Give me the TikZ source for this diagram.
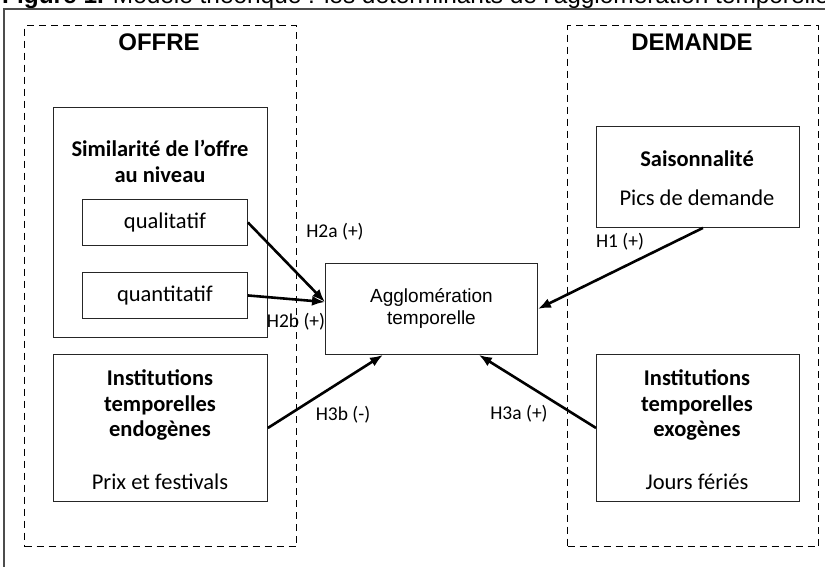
\documentclass[tikz,border=0pt]{standalone}
\usepackage{fontspec}
\setmainfont{Carlito}
\newfontfamily\arialf{Liberation Sans}
\usetikzlibrary{arrows.meta,calc}
\begin{document}
\begin{tikzpicture}[x=1pt,y=-1pt,
  box/.style={draw=black!85,line width=0.9pt,inner sep=0pt,anchor=north west},
  grp/.style={draw=black,line width=1.4pt,dash pattern=on 7pt off 5pt,inner sep=0pt,anchor=north west},
  txt/.style={font=\fontsize{22.5}{25.5}\selectfont,inner sep=0pt,align=center},
  btxt/.style={font=\fontsize{22.5}{25.5}\selectfont\bfseries,inner sep=0pt,align=center},
  head/.style={font=\arialf\fontsize{24}{28}\selectfont\bfseries,inner sep=0pt},
  hyp/.style={font=\fontsize{19.5}{22}\selectfont,inner sep=0pt},
  arr/.style={line width=2.6pt,-{Latex[length=13pt,width=10pt]}}]
\useasboundingbox (0,0) rectangle (825,566);
\clip (0,0) rectangle (825,566);
\fill[white] (0,0) rectangle (825,566);
% title (cut off at the top)
\node[anchor=base west,inner sep=0pt,font=\arialf\fontsize{24.4}{27}\selectfont] (title) at (2,3)
  {\textbf{Figure 1.} Modèle théorique : les déterminants de l'agglomération temporelle};
% outer frame
\coordinate (fbl) at (4,600);
\coordinate (ftl) at (4,9);
\coordinate (ftr) at (840,9);
\draw[black!70,line width=1.2pt] (fbl) -- (ftl) -- (ftr);
% groups
\node[grp,minimum width=272pt,minimum height=521pt] (offre) at (24,25) {};
\node[grp,minimum width=251pt,minimum height=521pt] (demande) at (567,25) {};
\node[head] (offret) at (159,42) {OFFRE};
\node[head] (demandet) at (692,42) {DEMANDE};
% left side
\node[box,minimum width=214pt,minimum height=230pt] (sim) at (53,107) {};
\node[btxt] (simt) at (160,161.5) {Similarité de l'offre\\au niveau};
\node[box,minimum width=165pt,minimum height=46pt,txt] (qual) at (82,199) {qualitatif};
\node[box,minimum width=165pt,minimum height=46pt,txt] (quant) at (82,272) {quantitatif};
\node[box,minimum width=214pt,minimum height=147pt] (endo) at (53,354) {};
\node[btxt] (endot) at (160,405) {Institutions\\temporelles\\endogènes};
\node[txt] (endos) at (160,482) {Prix et festivals};
% centre
\node[box,minimum width=212pt,minimum height=91pt,font=\arialf\fontsize{19}{22}\selectfont,align=center] (agglo) at (325,263) {Agglomération\\temporelle};
% right side
\node[box,minimum width=203pt,minimum height=101pt] (sais) at (596,126) {};
\node[btxt] (saist) at (697,159) {Saisonnalité};
\node[txt] (saiss) at (697,198) {Pics de demande};
\node[box,minimum width=203pt,minimum height=147pt] (exo) at (596,354) {};
\node[btxt] (exot) at (697,405) {Institutions\\temporelles\\exogènes};
\node[txt] (exos) at (697,482) {Jours fériés};
% hypotheses labels
\node[hyp] (h2a) at (335,232) {H2a (+)};
\node[hyp] (h2b) at (296,322) {H2b (+)};
\node[hyp] (h1) at (620,242) {H1 (+)};
\node[hyp] (h3b) at (343,415) {H3b (-)};
\node[hyp] (h3a) at (519,414) {H3a (+)};
% arrows
\draw[arr] (qual.east) -- ($(agglo.north west)+(0,39)$);
\draw[arr] (quant.east) -- ($(agglo.north west)+(0,39)$);
\draw[arr] ($(sais.south)+(5,0)$) -- (agglo.east);
\draw[arr] (endo.east) -- ($(agglo.south west)+(58,0)$);
\draw[arr] (exo.west) -- ($(agglo.south east)+(-59,0)$);
\end{tikzpicture}
\end{document}
